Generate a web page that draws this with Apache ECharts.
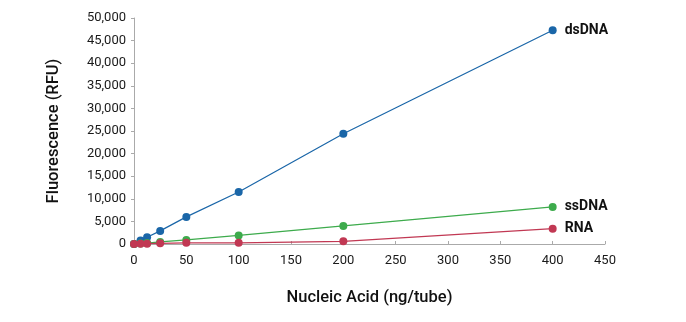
<!DOCTYPE html>
<html>
<head>
<meta charset="utf-8">
<script src="https://cdn.jsdelivr.net/npm/echarts@6/dist/echarts.min.js"></script>
<style>
  html, body { margin: 0; padding: 0; background: #fff; }
  #chart { width: 686px; height: 322px; }
</style>
</head>
<body>
<div id="chart"></div>
<script>
// Nucleic acid amount per tube (ng)
const amounts = [0, 6.25, 12.5, 25, 50, 100, 200, 400];
// Fluorescence readings (RFU) for each nucleic acid type
const dsDNA = [0, 800, 1500, 2900, 6000, 11500, 24400, 47300];
const ssDNA = [0, 100, 200, 450, 900, 1900, 4000, 8200];
const RNA   = [0, 40, 80, 150, 250, 250, 600, 3400];

const seriesDefs = [
  { name: 'dsDNA', values: dsDNA, color: '#1a66a8' },
  { name: 'ssDNA', values: ssDNA, color: '#3dab4c' },
  { name: 'RNA',   values: RNA,   color: '#c13853' }
];

const font = 'Roboto, "Noto Sans", sans-serif';

const chart = echarts.init(document.getElementById('chart'), null, { renderer: 'canvas' });

chart.setOption({
  animation: false,
  backgroundColor: '#fff',
  grid: { left: 134, right: 81, top: 18, bottom: 78 },
  xAxis: {
    type: 'value',
    min: 0, max: 450, interval: 50,
    name: 'Nucleic Acid (ng/tube)',
    nameLocation: 'middle',
    nameGap: 45,
    nameTextStyle: { fontFamily: font, fontSize: 16.5, fontWeight: 500, color: '#111' },
    axisLine: { show: true, lineStyle: { color: '#aaaaaa', width: 1 } },
    axisTick: { show: true, inside: true, length: 3, lineStyle: { color: '#aaaaaa' } },
    axisLabel: { fontFamily: font, fontSize: 13, color: '#1a1a1a', margin: 10 },
    splitLine: { show: false }
  },
  yAxis: {
    type: 'value',
    min: 0, max: 50000, interval: 5000,
    name: 'Fluorescence (RFU)',
    nameLocation: 'middle',
    nameGap: 72,
    nameTextStyle: { fontFamily: font, fontSize: 16.5, fontWeight: 500, color: '#111' },
    axisLine: { show: true, lineStyle: { color: '#aaaaaa', width: 1 } },
    axisTick: { show: true, length: 3, lineStyle: { color: '#aaaaaa' } },
    axisLabel: {
      fontFamily: font, fontSize: 13, color: '#1a1a1a', margin: 8,
      formatter: v => v.toLocaleString('en-US')
    },
    splitLine: { show: false }
  },
  series: seriesDefs.map(s => ({
    name: s.name,
    type: 'line',
    data: amounts.map((x, i) => {
      const item = { value: [x, s.values[i]] };
      if (i === amounts.length - 1) {
        item.label = {
          show: true,
          position: 'right',
          distance: 8,
          formatter: s.name,
          fontFamily: font,
          fontSize: 14,
          fontWeight: 'bold',
          color: '#111'
        };
      }
      return item;
    }),
    symbol: 'circle',
    symbolSize: 8,
    itemStyle: { color: s.color },
    lineStyle: { color: s.color, width: 1.2 },
    z: 3
  }))
});
</script>
</body>
</html>
